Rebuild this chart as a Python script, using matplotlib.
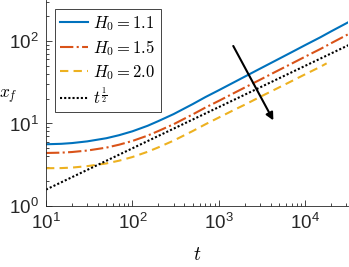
import numpy as np
import matplotlib
matplotlib.use("Agg")
import matplotlib.pyplot as plt

# values
t = [10, 15, 20, 30, 50, 70, 100, 150, 200, 300, 500, 700, 1000, 1500,
     2000, 3000, 5000, 7000, 1e4, 1.5e4, 2e4, 31623]
xf_h11 = [5.60, 5.67, 5.79, 6.07, 6.63, 7.21, 8.04, 9.38, 10.7, 13.0, 17.2,
          20.9, 25.3, 31.6, 37.0, 46.2, 61.0, 73.3, 89.2, 111, 131, 169]
xf_h15 = [4.39, 4.43, 4.51, 4.70, 5.10, 5.53, 6.14, 7.13, 8.11, 9.80, 12.9,
          15.6, 18.8, 23.4, 27.3, 33.9, 44.6, 53.3, 64.6, 80.0, 94.1, 121]
t_h20 = [10, 15, 20, 30, 50, 70, 100, 150, 200, 300, 500, 700, 1000, 1500,
         2000, 3000, 5000, 7000, 1e4, 1.5e4, 17700]
xf_h20 = [2.87, 2.88, 2.92, 3.04, 3.28, 3.54, 3.92, 4.54, 5.14, 6.20, 8.11,
          9.78, 11.8, 14.6, 16.9, 21.0, 27.4, 32.7, 39.5, 48.7, 53.6]
t_ref = [10, 100, 1000, 1e4, 31623]
xf_ref = [1.58, 5.0, 15.8, 50.0, 88.9]

arrow_start = (1470, 87)
arrow_end = (4280, 10.9)

plt.rcParams["font.family"] = ["Liberation Sans", "DejaVu Sans"]
plt.rcParams["mathtext.fontset"] = "cm"

fig = plt.figure(figsize=(3.49, 2.67), dpi=100)
ax = fig.add_axes([0.1318, 0.2285, 0.8665, 0.7725])

ax.loglog(t, xf_h11, "-", color=(0, 0.447, 0.741), lw=1.5, label=r"$H_0 = 1.1$")
ax.loglog(t, xf_h15, "-.", color=(0.85, 0.325, 0.098), lw=1.5, label=r"$H_0 = 1.5$")
ax.loglog(t_h20, xf_h20, ls=(0, (4, 2.5)), color=(0.929, 0.694, 0.125), lw=1.5,
          label=r"$H_0 = 2.0$")
ax.loglog(t_ref, xf_ref, ls=(0, (1, 1)), color="k", lw=1.5, label=r"$t^{\frac{1}{2}}$")

ax.annotate("", xy=arrow_end, xytext=arrow_start,
            arrowprops=dict(arrowstyle="-|>", lw=1.5, color="k", mutation_scale=11,
                            shrinkA=0, shrinkB=0))

ax.set_xlim(10, 10 ** 4.5)
ax.set_ylim(1, 10 ** 2.5)
ax.set_xticks([1e1, 1e2, 1e3, 1e4])
ax.set_yticks([1e0, 1e1, 1e2])

grey = (0.15, 0.15, 0.15)
for s in ax.spines.values():
    s.set_color(grey)
    s.set_linewidth(0.6)
ax.spines["top"].set_visible(False)
ax.spines["right"].set_visible(False)
ax.tick_params(which="both", direction="in", colors=grey, labelcolor="#262626",
               labelsize=13.5, width=0.6)
ax.tick_params(which="major", length=4, pad=5)
ax.tick_params(which="minor", length=2)

ax.set_xlabel(r"$t$", fontsize=14, va="center")
ax.xaxis.set_label_coords(0.5, -0.24)
ax.set_ylabel(r"$x_f$", fontsize=12.5, rotation=0, va="center")
ax.yaxis.set_label_coords(-0.126, 0.53)

leg = ax.legend(loc="upper left", bbox_to_anchor=(0.03, 0.955), borderaxespad=0,
                fontsize=12, handlelength=1.7, handletextpad=0.3,
                labelspacing=0.3, borderpad=0.3, fancybox=False, framealpha=1)
leg.get_frame().set_edgecolor(grey)
leg.get_frame().set_linewidth(0.6)

fig.savefig("out.png", dpi=100)
